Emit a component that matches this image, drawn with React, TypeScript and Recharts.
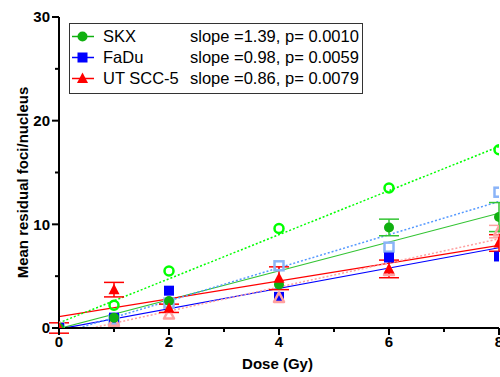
import { ComposedChart, ErrorBar, Label, Legend, Line, Scatter, XAxis, YAxis } from 'recharts';

const FONT = '"Liberation Sans", Arial, Helvetica, sans-serif';

const doses = [0, 1, 2, 4, 6, 8];
const xTicks = [0, 1, 2, 3, 4, 5, 6, 7, 8];
const yTicks = [0, 5, 10, 15, 20, 25, 30];

// filled symbols (mean +/- error)
const skxMean = [0, 1.0, 2.6, 4.2, 9.7, 10.7];
const skxErr = [null, null, null, null, 0.8, 1.4];
const faduMean = [0, 1.0, 3.6, 3.0, 6.8, 6.9];
const utMean = [0, 3.7, 1.9, 4.8, 5.7, 8.2];
const utErr = [0.5, 0.7, 0.4, 1.1, 0.85, 0.8];

// open symbols
const skxOpen = [0, 2.2, 5.5, 9.6, 13.5, 17.2];
const faduOpen = [0, 0.8, 2.4, 6.0, 7.8, 13.1];
const utOpen = [0, 0.6, 1.3, 2.9, 5.5, 9.3];
const utOpenErr = [null, null, null, null, null, 0.6];

// regression lines for the filled symbols
const lineNames = ['SKX', 'FaDu', 'UT SCC-5'];
const slopes = [1.39, 0.98, 0.86];
const intercepts = [-0.05, -0.1, 1.1];
const pValues = ['0.0010', '0.0059', '0.0079'];

// regression lines for the open symbols (end points)
const skxOpenFit = [{ x: 0, y: 0.5 }, { x: 8, y: 17.5 }];
const faduOpenFit = [{ x: 0.36, y: 0 }, { x: 8, y: 12.2 }];
const utOpenFit = [{ x: 0.6, y: 0 }, { x: 8, y: 8.6 }];

const GREEN = '#10b010';
const GREEN_LINE = '#33c433';
const BLUE = '#0000ff';
const RED = '#ff0000';
const LIME = '#00ff00';
const LIGHT_BLUE = '#8ab4f8';
const LIGHT_BLUE_LINE = '#5599ff';
const PINK = '#ffa0a0';

const toPoints = (ys: number[], errs?: (number | null)[]) =>
  doses.map((x, i) => ({ x, y: ys[i], e: errs && errs[i] != null ? errs[i] : undefined }));

const fitLine = (i: number) => [
  { x: 0, y: intercepts[i] },
  { x: 8, y: intercepts[i] + slopes[i] * 8 },
];

type Kind = 'circle' | 'square' | 'triangle';

function Symbol({ cx, cy, kind, color, open }: { cx: number; cy: number; kind: Kind; color: string; open?: boolean }) {
  const fill = open ? 'none' : color;
  const sw = open ? 2.5 : 0;
  if (kind === 'circle') return <circle cx={cx} cy={cy} r={open ? 4.5 : 5} fill={fill} stroke={color} strokeWidth={sw} />;
  if (kind === 'square') {
    const h = open ? 4.5 : 5;
    return <rect x={cx - h} y={cy - h} width={h * 2} height={h * 2} fill={fill} stroke={color} strokeWidth={sw} />;
  }
  const s = open ? 5 : 5.5;
  return (
    <polygon
      points={`${cx},${cy - s - 0.5} ${cx - s},${cy + s - 1} ${cx + s},${cy + s - 1}`}
      fill={fill}
      stroke={color}
      strokeWidth={sw}
      strokeLinejoin="round"
    />
  );
}

const shape = (kind: Kind, color: string, open?: boolean) => (props: any) =>
  <Symbol cx={props.cx} cy={props.cy} kind={kind} color={color} open={open} />;

function XTick(props: any) {
  const { x, y, payload } = props;
  const major = payload.value % 2 === 0;
  return (
    <g>
      <line x1={x} x2={x} y1={y} y2={y + (major ? 7 : 4)} stroke="#000" strokeWidth={2} />
      {major && (
        <text x={x} y={y + 18.5} textAnchor="middle" fontFamily={FONT} fontWeight="bold" fontSize={15} fill="#000">
          {payload.value}
        </text>
      )}
    </g>
  );
}

function YTick(props: any) {
  const { x, y, payload } = props;
  const major = payload.value % 10 === 0;
  return (
    <g>
      <line x1={x} x2={x - (major ? 7 : 4)} y1={y} y2={y} stroke="#000" strokeWidth={2} />
      {major && (
        <text x={x - 9} y={y} dy="0.36em" textAnchor="end" fontFamily={FONT} fontWeight="bold" fontSize={15} fill="#000">
          {payload.value}
        </text>
      )}
    </g>
  );
}

const legendItems: { kind: Kind; color: string }[] = [
  { kind: 'circle', color: GREEN },
  { kind: 'square', color: BLUE },
  { kind: 'triangle', color: RED },
];

function LegendBox() {
  return (
    <div
      style={{
        boxSizing: 'border-box',
        width: 294,
        height: 71,
        border: '1.5px solid #333',
        background: '#fff',
        fontFamily: FONT,
        fontSize: 16.5,
        color: '#000',
        paddingTop: 2,
      }}
    >
      {legendItems.map((it, i) => (
        <div key={lineNames[i]} style={{ display: 'flex', alignItems: 'center', height: 21, lineHeight: '21px' }}>
          <svg width={26} height={21} style={{ marginLeft: 1, flex: 'none' }}>
            <line x1={1} x2={23} y1={10.5} y2={10.5} stroke={it.color} strokeWidth={1.5} />
            <Symbol cx={11.5} cy={10.5} kind={it.kind} color={it.color} />
          </svg>
          <span style={{ marginLeft: 6, width: 87, whiteSpace: 'nowrap' }}>{lineNames[i]}</span>
          <span style={{ whiteSpace: 'nowrap' }}>
            slope ={slopes[i].toFixed(2)}, p= {pValues[i]}
          </span>
        </div>
      ))}
    </div>
  );
}

export default function App() {
  return (
    <div style={{ position: 'fixed', left: 0, top: 0, width: 500, height: 377, overflow: 'hidden', background: '#fff' }}>
      <ComposedChart width={520} height={377} margin={{ top: 17, right: 21, bottom: 0, left: 0 }}>
        <XAxis
          type="number"
          dataKey="x"
          domain={[0, 8]}
          ticks={xTicks}
          interval={0}
          tickSize={0}
          tickMargin={0}
          height={49}
          axisLine={{ stroke: '#000', strokeWidth: 2 }}
          tick={XTick}
          allowDataOverflow
        >
          <Label
            content={(p: any) => {
              const vb = p.viewBox || { x: 59, y: 328, width: 440 };
              return (
                <text x={vb.x + vb.width / 2 - 1.5} y={vb.y + 41} textAnchor="middle" fontFamily={FONT} fontWeight="bold" fontSize={15} fill="#000">
                  Dose (Gy)
                </text>
              );
            }}
          />
        </XAxis>
        <YAxis
          type="number"
          dataKey="y"
          domain={[0, 30]}
          ticks={yTicks}
          interval={0}
          tickSize={0}
          tickMargin={0}
          width={59}
          axisLine={{ stroke: '#000', strokeWidth: 2 }}
          tick={YTick}
          allowDataOverflow
        >
          <Label
            content={(p: any) => {
              const vb = p.viewBox || { x: 0, y: 17, height: 311 };
              const cy = vb.y + vb.height / 2 + 10;
              return (
                <text
                  x={22.5}
                  y={cy}
                  transform={`rotate(-90 22.5 ${cy})`}
                  dy="0.36em"
                  textAnchor="middle"
                  fontFamily={FONT}
                  fontWeight="bold"
                  fontSize={15}
                  fill="#000"
                >
                  Mean residual foci/nucleus
                </text>
              );
            }}
          />
        </YAxis>

        <Line data={fitLine(0)} dataKey="y" stroke={GREEN_LINE} strokeWidth={1.2} dot={false} isAnimationActive={false} />
        <Line data={fitLine(1)} dataKey="y" stroke={BLUE} strokeWidth={1.2} dot={false} isAnimationActive={false} />
        <Line data={fitLine(2)} dataKey="y" stroke={RED} strokeWidth={1.2} dot={false} isAnimationActive={false} />
        <Line data={skxOpenFit} dataKey="y" stroke={LIME} strokeWidth={1.5} strokeDasharray="2 2" dot={false} isAnimationActive={false} />
        <Line data={faduOpenFit} dataKey="y" stroke={LIGHT_BLUE_LINE} strokeWidth={1.5} strokeDasharray="2 2" dot={false} isAnimationActive={false} />
        <Line data={utOpenFit} dataKey="y" stroke={PINK} strokeWidth={1.5} strokeDasharray="2 2" dot={false} isAnimationActive={false} />

        <Scatter data={toPoints(faduOpen)} shape={shape('square', LIGHT_BLUE, true)} isAnimationActive={false} />
        <Scatter data={toPoints(skxOpen)} shape={shape('circle', LIME, true)} isAnimationActive={false} />
        <Scatter data={toPoints(faduMean)} shape={shape('square', BLUE)} isAnimationActive={false} />
        <Scatter data={toPoints(utOpen, utOpenErr)} shape={shape('triangle', PINK, true)} isAnimationActive={false}>
          <ErrorBar dataKey="e" direction="y" width={10} stroke={PINK} strokeWidth={1.5} />
        </Scatter>
        <Scatter data={toPoints(skxMean, skxErr)} shape={shape('circle', GREEN)} isAnimationActive={false}>
          <ErrorBar dataKey="e" direction="y" width={10} stroke={GREEN_LINE} strokeWidth={1.5} />
        </Scatter>
        <Scatter data={toPoints(utMean, utErr)} shape={shape('triangle', RED)} isAnimationActive={false}>
          <ErrorBar dataKey="e" direction="y" width={10} stroke={RED} strokeWidth={1.5} />
        </Scatter>

        <Legend
          layout="vertical"
          align="center"
          verticalAlign="middle"
          content={() => <LegendBox />}
          wrapperStyle={{ left: 69, top: 23, width: 294, height: 71 }}
        />
      </ComposedChart>
    </div>
  );
}
